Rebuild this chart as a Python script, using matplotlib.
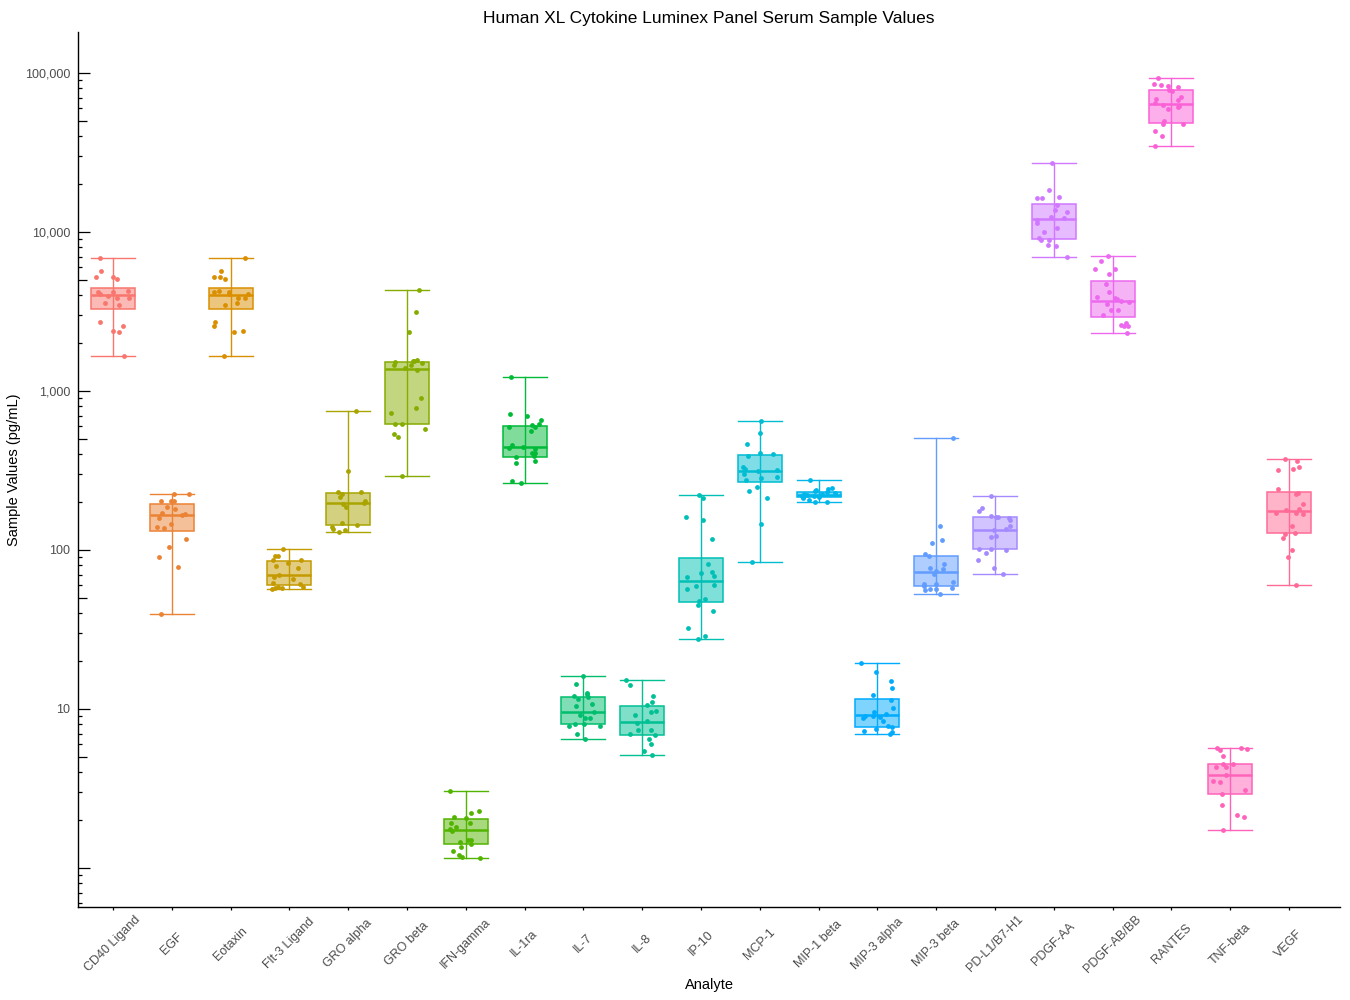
import numpy as np
import matplotlib
matplotlib.use("Agg")
import matplotlib.pyplot as plt
from matplotlib.ticker import FixedLocator, NullFormatter

plt.rcParams['font.family'] = ['Liberation Sans', 'DejaVu Sans']

# ---------------- data ----------------
analytes = ["CD40 Ligand", "EGF", "Eotaxin", "Flt-3 Ligand", "GRO alpha", "GRO beta",
            "IFN-gamma", "IL-1ra", "IL-7", "IL-8", "IP-10", "MCP-1", "MIP-1 beta",
            "MIP-3 alpha", "MIP-3 beta", "PD-L1/B7-H1", "PDGF-AA", "PDGF-AB/BB",
            "RANTES", "TNF-beta", "VEGF"]

cd40_ligand = [6829, 5186, 5039, 5186, 5656, 4256, 4174, 4055, 3826, 3826, 3939, 4174,
               3457, 3559, 2703, 2551, 2339, 2373, 1652]
egf = [223.9, 223.9, 203.3, 203.3, 203.3, 187.2, 180.3, 171.6, 166.0, 167.7, 158.2,
       145.1, 138.1, 138.9, 116.8, 104.0, 90.0, 77.8, 39.4]
eotaxin = [6829, 5656, 5186, 5186, 5039, 4055, 3826, 3826, 3457, 4174, 4256, 4055,
           4174, 3559, 2703, 2551, 2373, 2339, 1652]
flt3_ligand = [101.0, 91.2, 91.2, 86.1, 86.0, 82.8, 79.3, 76.7, 69.6, 68.0, 65.4,
               58.8, 61.7, 60.8, 58.8, 57.4, 56.6, 57.4]
gro_alpha = [745, 313.9, 232.7, 230.5, 223.9, 215.4, 204.3, 198.5, 193.8, 186.4,
             147.2, 142.9, 139.5, 134.9, 133.0, 129.2]
gro_beta = [4298, 3124, 2338, 1537, 1537, 1566, 1493, 1515, 1450, 1450, 1388, 1349,
            899, 778, 724, 617, 617, 574, 534, 511, 290.7]
ifn_gamma = [3.03, 2.27, 2.21, 2.08, 2.05, 1.91, 1.91, 1.80, 1.75, 1.70, 1.49, 1.49,
             1.45, 1.41, 1.35, 1.27, 1.20, 1.17, 1.15]
il_1ra = [1219, 713, 693, 654, 617, 608, 591, 591, 557, 455, 442, 436, 430, 405, 405,
          388, 383, 361, 351, 270, 263]
il_7 = [16.05, 14.29, 12.54, 12.37, 12.02, 11.84, 11.61, 10.70, 10.39, 9.53, 9.12,
        8.74, 8.74, 8.01, 8.01, 7.78, 7.78, 6.93, 6.45]
il_8 = [15.14, 14.09, 12.02, 11.01, 10.54, 9.67, 9.53, 9.12, 8.37, 8.13, 7.35, 7.35,
        6.93, 6.83, 6.45, 6.00, 5.42, 5.11]
ip_10 = [220.7, 211.3, 160.5, 153.7, 116.7, 81.2, 72.3, 71.3, 68.3, 67.3, 59.9, 59.1,
         56.6, 49.0, 47.6, 44.9, 41.2, 32.2, 28.7, 27.4]
mcp_1 = [644.8, 541.9, 461.8, 405.4, 399.6, 388.1, 331.1, 321.7, 312.4, 317.0, 299.1,
         286.4, 282.3, 274.2, 247.8, 233.9, 211.3, 145.1, 83.6]
mip_1_beta = [274.2, 244.3, 240.8, 237.4, 233.9, 230.5, 227.1, 223.9, 220.7, 217.6,
              214.5, 214.5, 211.3, 205.4, 199.5, 199.5, 225.0, 218.0]
mip_3_alpha = [19.38, 17.01, 14.93, 13.49, 12.19, 11.34, 10.10, 9.53, 9.26, 8.99, 8.99,
               8.86, 8.74, 8.37, 7.78, 7.67, 7.52, 7.24, 7.14, 6.93]
mip_3_beta = [504.1, 140.9, 115.1, 110.2, 93.9, 91.2, 81.2, 76.7, 75.6, 73.5, 70.3,
              62.6, 60.8, 60.8, 59.1, 57.4, 56.6, 56.6, 55.8, 52.6]
pd_l1 = [217.6, 182.9, 175.1, 162.9, 160.5, 160.5, 158.2, 153.7, 140.9, 134.9, 133.0,
         122.0, 120.2, 101.0, 101.0, 99.6, 95.3, 86.1, 76.7, 70.3]
pdgf_aa = [27030, 18290, 16520, 16280, 16280, 14710, 13680, 13290, 12370, 12190, 11840,
           11340, 10540, 9952, 9123, 8864, 8864, 8245, 8126, 6930]
pdgf_ab_bb = [7036, 6541, 5827, 5827, 5419, 4688, 4174, 3885, 3826, 3773, 3665, 3612,
              3510, 3217, 3217, 2993, 2666, 2590, 2551, 2551, 2305]
rantes = [92550, 84870, 83650, 82450, 81230, 77800, 76680, 70300, 68300, 67310, 64460,
          62620, 61720, 60810, 59080, 49670, 47550, 47550, 42970, 39960, 34570]
tnf_beta = [5.655, 5.655, 5.574, 5.495, 5.040, 4.487, 4.487, 4.296, 4.296, 3.826, 3.509,
            3.458, 3.080, 2.906, 2.480, 2.145, 2.083, 1.725]
vegf = [371.9, 361.2, 331.2, 321.7, 317.0, 240.8, 227.1, 223.9, 193.8, 180.3, 177.7,
        170.1, 167.7, 170.1, 140.9, 127.3, 125.5, 118.5, 99.6, 90.0, 59.9]

sample_values = [cd40_ligand, egf, eotaxin, flt3_ligand, gro_alpha, gro_beta, ifn_gamma,
                 il_1ra, il_7, il_8, ip_10, mcp_1, mip_1_beta, mip_3_alpha, mip_3_beta,
                 pd_l1, pdgf_aa, pdgf_ab_bb, rantes, tnf_beta, vegf]

# box statistics
whisker_low = [1653, 39.4, 1653, 56.6, 129.2, 290.7, 1.150, 262.6, 6.45, 5.11, 27.4,
               83.6, 199.5, 6.93, 52.6, 70.3, 6930, 2305, 34570, 1.725, 59.9]
q1 = [3265, 131.1, 3265, 59.9, 142.9, 617, 1.416, 382.5, 8.01, 6.83, 46.9,
      266.5, 214.5, 7.67, 59.1, 101.0, 8992, 2906, 48250, 2.906, 127.3]
median = [4035, 166.8, 4035, 69.9, 198.5, 1375, 1.734, 446.6, 9.62, 8.32, 63.8,
          313.9, 221.8, 9.17, 73.1, 134.2, 12130, 3700, 64150, 3.864, 176.8]
q3 = [4430, 193.8, 4430, 84.9, 227.1, 1515, 2.024, 599.6, 11.84, 10.39, 88.6,
      393.9, 230.5, 11.50, 91.2, 160.5, 14930, 4896, 77800, 4.487, 230.5]
whisker_high = [6840, 223.9, 6840, 101.0, 745, 4298, 3.034, 1219, 16.05, 15.14, 220.7,
                644.8, 274.2, 19.38, 504.1, 217.6, 27030, 7036, 92550, 5.655, 371.9]

title = "Human XL Cytokine Luminex Panel Serum Sample Values"
x_label = "Analyte"
y_label = "Sample Values (pg/mL)"
y_major = [1, 10, 100, 1000, 10000, 100000]
y_major_labels = ["", "10", "100", "1,000", "10,000", "100,000"]


# ---------------- colours (ggplot-style hue palette) ----------------
def hcl_hex(h, c=100.0, l=65.0):
    Xn, Yn, Zn = 95.047, 100.0, 108.883
    den = Xn + 15 * Yn + 3 * Zn
    un, vn = 4 * Xn / den, 9 * Yn / den
    hr = np.deg2rad(h)
    u, v = c * np.cos(hr), c * np.sin(hr)
    Y = Yn * ((l + 16) / 116) ** 3
    up = u / (13 * l) + un
    vp = v / (13 * l) + vn
    X = Y * 9 * up / (4 * vp)
    Z = Y * (12 - 3 * up - 20 * vp) / (4 * vp)
    X, Y, Z = X / 100, Y / 100, Z / 100
    r = 3.2404542 * X - 1.5371385 * Y - 0.4985314 * Z
    g = -0.9692660 * X + 1.8760108 * Y + 0.0415560 * Z
    b = 0.0556434 * X - 0.2040259 * Y + 1.0572252 * Z
    out = []
    for ch in (r, g, b):
        ch = 1.055 * ch ** (1 / 2.4) - 0.055 if ch > 0.0031308 else 12.92 * ch
        out.append(min(1.0, max(0.0, ch)))
    return tuple(out)


n = len(analytes)
hues = np.linspace(15, 375, n + 1)[:n]
colors = [hcl_hex(h) for h in hues]

# ---------------- figure ----------------
fig = plt.figure(figsize=(13.5, 10), dpi=100)
ax = fig.add_axes([78 / 1350, 93 / 1000, (1340 - 78) / 1350, (907 - 32) / 1000])

positions = np.arange(n)
stats = []
for i in range(n):
    stats.append(dict(med=median[i], q1=q1[i], q3=q3[i],
                      whislo=whisker_low[i], whishi=whisker_high[i], fliers=[]))

box_w = 0.75
for i in range(n):
    col = colors[i]
    ax.bxp([stats[i]], positions=[positions[i]], widths=box_w, capwidths=box_w,
           patch_artist=True, showfliers=False, manage_ticks=False,
           boxprops=dict(facecolor=(*col, 0.5), edgecolor=col, linewidth=1.1),
           medianprops=dict(color=col, linewidth=1.8),
           whiskerprops=dict(color=col, linewidth=1.0),
           capprops=dict(color=col, linewidth=1.0))
    # the whisker line continues through the box
    ax.vlines(positions[i], q1[i], q3[i], colors=[col], linewidth=1.0, zorder=2.5)

rng = np.random.default_rng(11)
for i, vals in enumerate(sample_values):
    jitter = rng.uniform(-0.3, 0.3, size=len(vals))
    ax.scatter(positions[i] + jitter, vals, s=12, color=colors[i], linewidths=0, zorder=3)

ax.set_yscale('log')
ax.set_ylim(0.568, 181000)
ax.set_xlim(-0.595, 20.867)

# y ticks
minor_locs = []
mid_locs = []
for dec in [0.1, 1, 10, 100, 1000, 10000, 100000]:
    for m in range(2, 10):
        if m == 5:
            mid_locs.append(m * dec)
        else:
            minor_locs.append(m * dec)
major_locs = y_major + mid_locs
major_labels = y_major_labels + [""] * len(mid_locs)
ax.yaxis.set_major_locator(FixedLocator(major_locs))
ax.set_yticklabels(major_labels)
ax.yaxis.set_minor_locator(FixedLocator(minor_locs))
ax.yaxis.set_minor_formatter(NullFormatter())
ax.tick_params(axis='y', which='major', direction='in', length=8.6, width=0.9,
               pad=5.5, labelsize=9, labelcolor='#4D4D4D')
ax.tick_params(axis='y', which='minor', direction='in', length=3.0, width=0.9)
ticks = ax.yaxis.get_major_ticks(len(major_locs))
for t, loc in zip(ticks, major_locs):
    if loc in mid_locs:
        t.tick1line.set_markersize(6.2)

# x ticks
ax.set_xticks(positions)
ax.set_xticklabels(analytes, rotation=45, ha='center', va='center',
                   rotation_mode='anchor')
ax.tick_params(axis='x', direction='out', length=2.5, width=0.9, pad=24,
               labelsize=9, labelcolor='#4D4D4D')

for s in ['top', 'right']:
    ax.spines[s].set_visible(False)
for s in ['left', 'bottom']:
    ax.spines[s].set_linewidth(1.0)
    ax.spines[s].set_color('black')

ax.set_title(title, fontsize=12.5, color='black', pad=6.5)
ax.set_xlabel(x_label, fontsize=10.5, color='black')
ax.set_ylabel(y_label, fontsize=10.5, color='black')
ax.xaxis.set_label_coords(0.5, -0.081)
ax.yaxis.set_label_coords(-0.045, 0.5)

fig.savefig("out.png", dpi=100, facecolor='white')
